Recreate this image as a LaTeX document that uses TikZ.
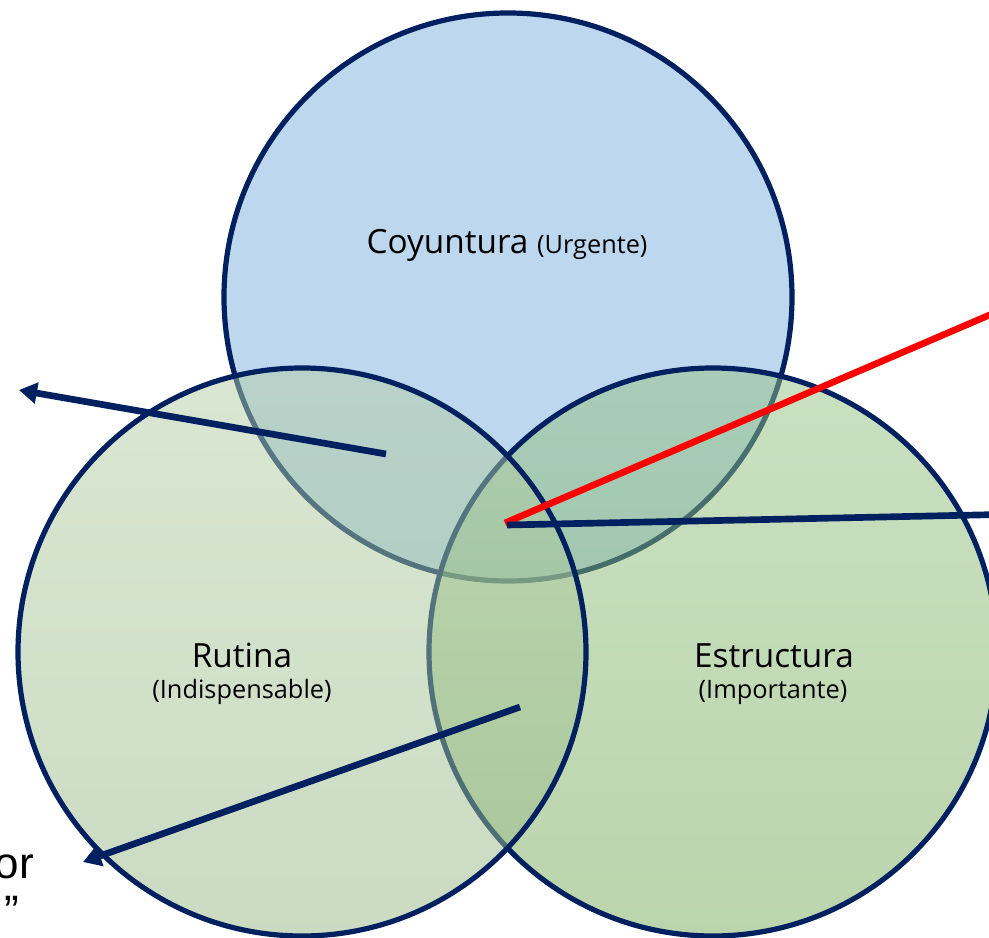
\documentclass[tikz,border=0pt]{standalone}
\usepackage{fontspec}
\setmainfont{Open Sans}
\newfontfamily\arialfont{Liberation Sans}
\usetikzlibrary{arrows.meta}
\definecolor{navy}{RGB}{0,32,96}
\definecolor{coyfill}{RGB}{189,215,238}
\definecolor{rutTop}{RGB}{181,207,167}
\definecolor{rutBot}{RGB}{150,184,134}
\definecolor{estTop}{RGB}{149,195,131}
\definecolor{estBot}{RGB}{119,170,90}
\definecolor{redline}{RGB}{255,0,0}
\begin{document}
\begin{tikzpicture}[x=0.75pt,y=-0.75pt,
  venn/.style={circle, inner sep=0pt, minimum size=426pt, draw=navy, line width=3.9pt},
  lbl/.style={font=\fontsize{25}{30}\selectfont, anchor=base, inner sep=0pt},
  sublbl/.style={font=\fontsize{19}{23}\selectfont, anchor=base, inner sep=0pt},
  conn/.style={draw=navy, line width=5pt},
  tipped/.style={-{Triangle[length=13.5pt,width=15.5pt]}},
  sidetext/.style={font=\arialfont\fontsize{33}{40}\selectfont, anchor=base east, inner sep=0pt}]
\useasboundingbox (0,0) rectangle (989,938);
\clip (0,0) rectangle (989,938);
% circles
\node[venn, fill=coyfill] (coy) at (508,297) {};
\node[venn, top color=estTop, bottom color=estBot, fill opacity=0.5] (est) at (713,652) {};
\node[venn, top color=rutTop, bottom color=rutBot, fill opacity=0.5] (rut) at (302,652) {};
% labels
\node[lbl] (coyl) at (507,253) {Coyuntura {\fontsize{19}{23}\selectfont(Urgente)}};
\node[lbl] (rutl) at (242,667) {Rutina};
\node[sublbl] (ruts) at (242,698) {(Indispensable)};
\node[lbl] (estl) at (774,667) {Estructura};
\node[sublbl] (ests) at (773,698) {(Importante)};
% side text (cut off at the left edge, as in the reference)
\node[sidetext] (sideA) at (34,878) {or};
\node[sidetext] (sideB) at (19,926) {”};
% connectors
\coordinate (p1) at (386,454);
\coordinate (p1e) at (19,390);
\coordinate (p2) at (520,707);
\coordinate (p2e) at (83,862);
\coordinate (hubR) at (505,523);
\coordinate (hubB) at (507,525);
\coordinate (redEnd) at (1000,310.5);
\coordinate (blueEnd) at (1000,514.5);
\draw[draw=redline, line width=5pt] (hubR) -- (redEnd);
\draw[conn] (hubB) -- (blueEnd);
\draw[conn, tipped] (p1) -- (p1e);
\draw[conn, tipped] (p2) -- (p2e);
\end{tikzpicture}
\end{document}
